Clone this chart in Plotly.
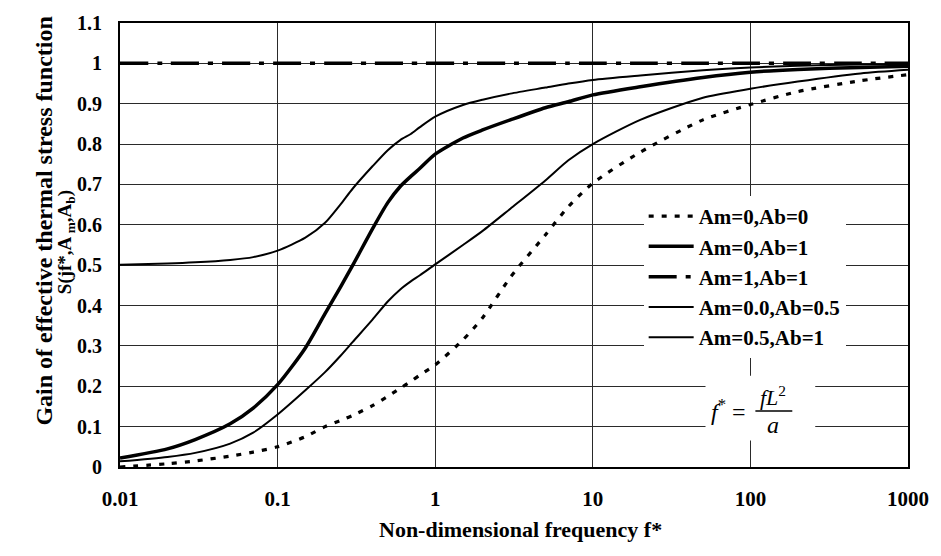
import plotly.graph_objects as go

# Non-dimensional frequency f* (log scale)
freq = [0.01, 0.02, 0.03, 0.05, 0.07, 0.1, 0.15, 0.2, 0.25, 0.3, 0.4, 0.5, 0.6,
        0.7, 0.8, 1, 1.5, 2, 3, 5, 7, 10, 20, 50, 100, 200, 500, 1000]

# Gain S(jf*, Am, Ab) for each parameter set
gain_am0_ab0 = [0.0, 0.008, 0.015, 0.027, 0.037, 0.05, 0.075, 0.1, 0.115, 0.128,
                0.152, 0.175, 0.195, 0.212, 0.228, 0.253, 0.315, 0.37, 0.47, 0.575,
                0.645, 0.703, 0.78, 0.86, 0.898, 0.93, 0.957, 0.972]
gain_am0_ab1 = [0.022, 0.045, 0.068, 0.107, 0.146, 0.204, 0.295, 0.38, 0.445, 0.50,
                0.59, 0.655, 0.695, 0.72, 0.74, 0.775, 0.815, 0.835, 0.86, 0.89,
                0.905, 0.922, 0.942, 0.965, 0.978, 0.985, 0.99, 0.993]
gain_am1_ab1 = [1.0] * len(freq)
gain_am0_ab05 = [0.014, 0.025, 0.035, 0.058, 0.085, 0.13, 0.19, 0.235, 0.275, 0.31,
                 0.365, 0.41, 0.44, 0.46, 0.475, 0.502, 0.55, 0.585, 0.64, 0.71,
                 0.76, 0.80, 0.86, 0.915, 0.937, 0.955, 0.975, 0.984]
gain_am05_ab1 = [0.501, 0.504, 0.507, 0.513, 0.52, 0.536, 0.568, 0.605, 0.65, 0.69,
                 0.745, 0.785, 0.81, 0.825, 0.842, 0.868, 0.897, 0.91, 0.925, 0.94,
                 0.95, 0.959, 0.97, 0.983, 0.99, 0.994, 0.997, 0.998]

series_names = ["Am=0,Ab=0", "Am=0,Ab=1", "Am=1,Ab=1", "Am=0.0,Ab=0.5", "Am=0.5,Ab=1"]

x_tickvals = [0.01, 0.1, 1, 10, 100, 1000]
x_ticktext = ["0.01", "0.1", "1", "10", "100", "1000"]
y_tickvals = [0, 0.1, 0.2, 0.3, 0.4, 0.5, 0.6, 0.7, 0.8, 0.9, 1.0, 1.1]
y_ticktext = ["0", "0.1", "0.2", "0.3", "0.4", "0.5", "0.6", "0.7", "0.8", "0.9", "1", "1.1"]

W, H = 941, 556
ML, MR, MT, MB = 120, 31, 15, 89
PW, PH = W - ML - MR, H - MT - MB


def px_x(p):
    return (p - ML) / PW


def px_y(p):
    return (H - MB - p) / PH


SERIF = "Liberation Serif"

styles = [
    dict(width=3.2, dash="5px,8px"),
    dict(width=3.5, dash="solid"),
    dict(width=3.5, dash="28px,9px,5px,9px"),
    dict(width=2, dash="solid"),
    dict(width=2, dash="solid"),
]
data = [gain_am0_ab0, gain_am0_ab1, gain_am1_ab1, gain_am0_ab05, gain_am05_ab1]

fig = go.Figure()
for name, ys, st in zip(series_names, data, styles):
    fig.add_trace(go.Scatter(
        x=freq, y=ys, mode="lines", name=name, legendgroup=name,
        line=dict(color="black", width=st["width"], dash=st["dash"], shape="spline",
                  smoothing=0.7),
    ))

fig.update_layout(
    width=W, height=H,
    margin=dict(l=ML, r=MR, t=MT, b=MB),
    paper_bgcolor="white", plot_bgcolor="white",
    font=dict(family=SERIF, color="black", size=21, weight="bold"),
    showlegend=True,
    legend=dict(
        x=px_x(645), y=px_y(191), xanchor="left", yanchor="top",
        bgcolor="white", borderwidth=0,
        font=dict(family=SERIF, size=21, color="black", weight="bold"),
        tracegroupgap=0, itemwidth=45,
    ),
    xaxis=dict(
        type="log", range=[-2, 3],
        tickvals=x_tickvals, ticktext=x_ticktext,
        tickfont=dict(family=SERIF, size=21, weight="bold"),
        showgrid=True, gridcolor="#2a2a2a", gridwidth=1.3,
        showline=True, linecolor="black", linewidth=2, mirror=True,
        ticks="", ticklabelstandoff=12, zeroline=False,
    ),
    yaxis=dict(
        range=[0, 1.1],
        tickvals=y_tickvals, ticktext=y_ticktext,
        tickfont=dict(family=SERIF, size=20, weight="bold"),
        showgrid=True, gridcolor="#2a2a2a", gridwidth=1.3,
        showline=True, linecolor="black", linewidth=2, mirror=True,
        ticks="", ticklabelstandoff=12, zeroline=False,
    ),
)

# Axis titles
fig.add_annotation(
    text="Non-dimensional frequency f*", xref="paper", yref="paper",
    x=px_x(522), y=px_y(531), xanchor="center", yanchor="middle", showarrow=False,
    font=dict(family=SERIF, size=22, weight="bold"),
)
fig.add_annotation(
    text="Gain of effective thermal stress function", xref="paper", yref="paper",
    x=px_x(44), y=px_y(217), xanchor="center", yanchor="middle", showarrow=False,
    textangle=-90, font=dict(family=SERIF, size=24, weight="bold"),
)
fig.add_annotation(
    text="S(jf*,A<sub> m</sub>,A<sub>b</sub>)", xref="paper", yref="paper",
    x=px_x(66), y=px_y(238), xanchor="center", yanchor="middle", showarrow=False,
    textangle=-90, font=dict(family=SERIF, size=19, weight="bold"),
)

# Definition of the non-dimensional frequency: f* = f L^2 / a
fig.add_shape(type="rect", xref="paper", yref="paper",
              x0=px_x(707), x1=px_x(817), y0=px_y(440), y1=px_y(374),
              fillcolor="white", line=dict(width=0), layer="above")
fig.add_annotation(
    text="<i>f</i><sup>*</sup> =", xref="paper", yref="paper",
    x=px_x(750), y=px_y(409), xanchor="right", yanchor="middle", showarrow=False,
    font=dict(family=SERIF, size=24, weight="normal"),
)
fig.add_annotation(
    text="<i>fL</i><sup>2</sup>", xref="paper", yref="paper",
    x=px_x(775), y=px_y(395), xanchor="center", yanchor="middle", showarrow=False,
    font=dict(family=SERIF, size=22, weight="normal"),
)
fig.add_shape(type="line", xref="paper", yref="paper",
              x0=px_x(757), x1=px_x(794), y0=px_y(410), y1=px_y(410),
              line=dict(color="black", width=1.5), layer="above")
fig.add_annotation(
    text="<i>a</i>", xref="paper", yref="paper",
    x=px_x(775), y=px_y(424), xanchor="center", yanchor="middle", showarrow=False,
    font=dict(family=SERIF, size=24, weight="normal"),
)

fig.write_html("out.html")
